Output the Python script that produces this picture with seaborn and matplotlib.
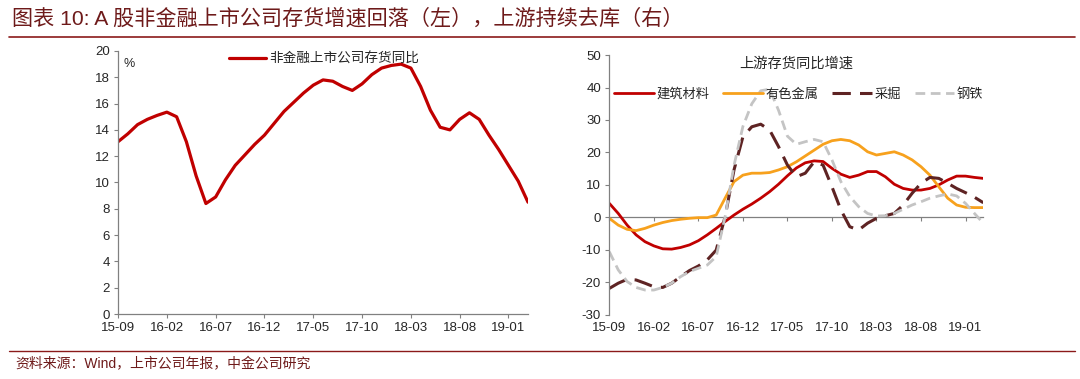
import numpy as np
import pandas as pd
import seaborn as sns
import matplotlib.pyplot as plt
from matplotlib.lines import Line2D

# monthly axis 2015-09 .. 2019-03
months = pd.period_range('2015-09', '2019-03', freq='M')
tick_labels = ['15-09', '16-02', '16-07', '16-12', '17-05', '17-10', '18-03', '18-08', '19-01']

# left: 非金融上市公司存货同比 (%)
nonfin_inventory = [13.1, 13.7, 14.4, 14.8, 15.1, 15.35, 15.0, 13.1, 10.5, 8.4, 8.9,
                    10.2, 11.3, 12.1, 12.9, 13.6, 14.5, 15.4, 16.1, 16.8, 17.4, 17.8,
                    17.7, 17.3, 17.0, 17.5, 18.2, 18.7, 18.9, 19.0, 18.7, 17.3, 15.5,
                    14.2, 14.0, 14.8, 15.3, 14.8, 13.6, 12.5, 11.3, 10.1, 8.5]

# right: 上游存货同比增速
building_mat = [4.3, 1.2, -2.4, -5.4, -7.5, -8.8, -9.7, -9.8, -9.3, -8.5, -7.2,
                -5.4, -3.4, -1.3, 0.7, 2.5, 4.1, 5.9, 7.9, 10.2, 12.8, 15.2,
                16.8, 17.4, 17.2, 15.1, 13.3, 12.3, 13.0, 14.1, 14.1, 12.5, 10.2,
                8.9, 8.4, 8.4, 8.9, 10.0, 11.5, 12.7, 12.7, 12.3, 12.0]
nonferrous = [-0.3, -2.4, -3.7, -4.1, -3.4, -2.4, -1.6, -1.0, -0.6, -0.3, -0.1,
              -0.1, 0.7, 5.9, 11.0, 13.0, 13.6, 13.6, 13.8, 14.6, 15.6, 17.1,
              18.9, 20.7, 22.5, 23.6, 24.0, 23.6, 22.3, 20.2, 19.2, 19.7, 20.2,
              19.2, 17.7, 15.6, 13.0, 9.4, 5.9, 3.8, 3.1, 3.0, 3.0]
mining = [-21.9, -20.3, -19.1, -19.3, -20.3, -21.4, -21.6, -20.3, -18.3, -16.4, -15.0,
          -13.1, -10.1, 0.2, 14.6, 24.8, 27.9, 28.7, 26.9, 21.8, 16.1, 12.5,
          13.6, 17.1, 16.1, 9.4, 2.3, -2.9, -3.9, -1.8, -0.3, 0.5, 1.2,
          3.8, 7.4, 10.5, 12.3, 12.0, 10.5, 8.9, 7.6, 6.2, 4.5]
steel = [-10.6, -16.2, -19.8, -21.6, -22.4, -22.4, -21.6, -20.3, -18.3, -16.7, -15.7,
         -14.7, -12.1, 0.2, 16.0, 28.0, 35.0, 39.0, 39.5, 33.0, 25.0, 22.5,
         23.3, 24.0, 23.3, 17.7, 11.0, 6.4, 3.3, 1.2, 0.4, 0.5, 1.2,
         2.5, 3.8, 4.8, 5.9, 6.6, 7.2, 6.6, 4.3, 1.2, -1.8]

x = np.arange(len(months))
tick_pos = np.arange(0, 41, 5)

sns.set_style('ticks')
plt.rcParams['font.family'] = ['Liberation Sans', 'Noto Sans CJK SC']
plt.rcParams['axes.unicode_minus'] = False

axis_grey = '#808080'
title_col = '#6e1a1a'

fig = plt.figure(figsize=(10.8, 3.79), dpi=100)
ax1 = fig.add_axes([0.1093, 0.1715, 0.3796, 0.694])
ax2 = fig.add_axes([0.5642, 0.1697, 0.3463, 0.685])

# ---- left chart
sns.lineplot(x=x, y=nonfin_inventory, ax=ax1, color='#c00000', lw=2.3,
             label='非金融上市公司存货同比')
ax1.set_xlim(0, 42)
ax1.set_ylim(0, 20)
ax1.set_yticks(np.arange(0, 21, 2))
ax1.set_xticks(tick_pos)
ax1.set_xticklabels(tick_labels)
ax1.text(0.027, 0.95, '%', transform=ax1.transAxes, fontsize=9, ha='center', va='center')
ax1.legend(loc='center left', bbox_to_anchor=(0.255, 0.97), frameon=False,
           fontsize=9.8, handlelength=2.7, handletextpad=0.2, borderpad=0)

# ---- right chart
series = [('建筑材料', building_mat, '#c00000', None, 2.0),
          ('有色金属', nonferrous, '#f7a11d', None, 2.0),
          ('采掘', mining, '#5e2323', (6, 3), 2.2),
          ('钢铁', steel, '#c4c4c4', (3.5, 2), 2.0)]
for name, vals, col, dash, lw in series:
    sns.lineplot(x=x, y=vals, ax=ax2, color=col, lw=lw, label=name)
    if dash:
        ax2.lines[-1].set_dashes(dash)
ax2.set_xlim(0, 42)
ax2.set_ylim(-30, 50)
ax2.set_yticks(np.arange(-30, 51, 10))
ax2.set_xticks(tick_pos)
ax2.set_xticklabels(tick_labels)
ax2.spines['bottom'].set_visible(False)
ax2.tick_params(axis='x', length=0, pad=5)
zero_ax = ax2.secondary_xaxis(0.375)
zero_ax.set_xticks(tick_pos)
zero_ax.set_xticklabels([])
zero_ax.spines['bottom'].set_color(axis_grey)
zero_ax.spines['bottom'].set_linewidth(0.9)
zero_ax.tick_params(axis='x', length=3, color=axis_grey, direction='out')
ax2.set_title('上游存货同比增速', fontsize=10.3, y=0.92)
ax2.legend(loc='center left', bbox_to_anchor=(-0.005, 0.848), ncol=4, frameon=False,
           fontsize=9.5, handlelength=3.0, handletextpad=0.2, columnspacing=1.05,
           borderpad=0)

for ax in (ax1, ax2):
    sns.despine(ax=ax)
    for s in ('left', 'bottom'):
        ax.spines[s].set_color(axis_grey)
        ax.spines[s].set_linewidth(0.9)
    ax.tick_params(axis='y', length=3, color=axis_grey, labelsize=9.5, pad=3)
    ax.tick_params(axis='x', color=axis_grey, labelsize=9.5)
    ax.set_xlabel('')
    ax.set_ylabel('')
ax1.tick_params(axis='x', length=3, pad=3)
ax2.spines['bottom'].set_visible(False)

# header / footer
fig.text(0.011, 0.952, '图表 10: A 股非金融上市公司存货增速回落（左），上游持续去库（右）',
         fontsize=15.2, color=title_col, va='center')
fig.add_artist(Line2D([0.008, 0.995], [0.902, 0.902], color='#8b1a1a', lw=1.2))
fig.add_artist(Line2D([0.008, 0.995], [0.074, 0.074], color='#8b1a1a', lw=1.0))
fig.text(0.014, 0.038, '资料来源：Wind，上市公司年报，中金公司研究',
         fontsize=10, color=title_col, va='center')

fig.savefig('out.png', dpi=100)
